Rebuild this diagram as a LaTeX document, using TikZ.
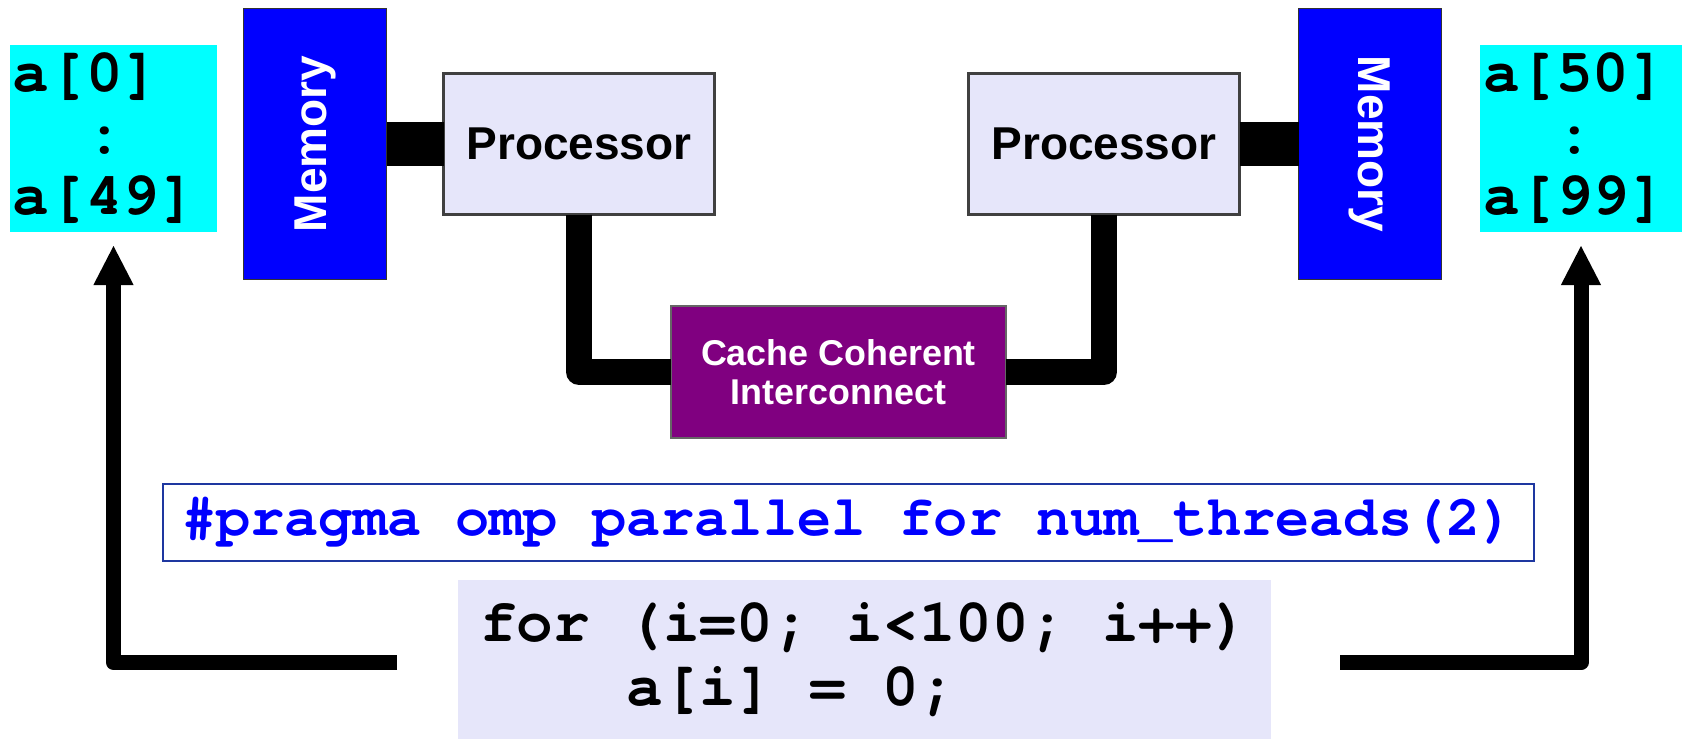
\documentclass[tikz,border=0pt]{standalone}
\usepackage{fontspec}
\setmainfont{Liberation Sans}
\setmonofont{texgyrecursor-regular.otf}[BoldFont=texgyrecursor-bold.otf]
\usetikzlibrary{arrows.meta,positioning}
\definecolor{memblue}{RGB}{0,0,255}
\definecolor{cpufill}{RGB}{230,230,250}
\definecolor{iccpurple}{RGB}{128,0,128}
\definecolor{slicecyan}{RGB}{0,255,255}
\definecolor{pragmaedge}{RGB}{30,55,160}
\definecolor{pragmablue}{RGB}{0,0,255}
\frenchspacing

\begin{document}
\begin{tikzpicture}[
			mem/.style={draw=black!80, line width=0.5pt, fill=memblue, text=white, minimum width=1.43cm, minimum height=2.71cm, inner sep=0pt, outer sep=0pt, font=\fontsize{13.1pt}{15pt}\selectfont\bfseries},
			cpu/.style={draw=black!75, line width=0.6pt, fill=cpufill, minimum width=2.71cm, minimum height=1.41cm, inner sep=0pt, outer sep=0pt, font=\fontsize{13.1pt}{15pt}\selectfont\bfseries},
			icc/.style={draw=black!60, line width=0.5pt, fill=iccpurple, text=white, minimum width=3.35cm, minimum height=1.32cm, align=center, inner sep=0pt, outer sep=0pt, font=\fontsize{10.2pt}{11.1pt}\selectfont\bfseries},
			slice/.style={fill=slicecyan, anchor=north west, minimum height=1.87cm, inner xsep=0.03cm, inner ysep=0pt, outer sep=0pt, align=left, font=\fontsize{17.35pt}{17.5pt}\selectfont\ttfamily\bfseries},
			pragmabox/.style={draw=pragmaedge, line width=0.6pt, text=pragmablue, minimum width=13.71cm, minimum height=0.77cm, inner sep=0pt, font=\fontsize{16.2pt}{18pt}\selectfont\ttfamily\bfseries},
			loopbox/.style={fill=cpufill, minimum width=8.13cm, minimum height=1.59cm, inner sep=0pt, outer sep=0pt, align=left, font=\fontsize{17.35pt}{18.2pt}\selectfont\ttfamily\bfseries},
			bus/.style={line width=0.44cm},
			wire/.style={line width=0.26cm, line join=round},
			flow/.style={line width=0.15cm, line join=round, -{Triangle[length=0.40cm, width=0.37cm]}, shorten >=0.13cm}
			]
			\useasboundingbox (0,0) rectangle (16.82,-7.39);

			% two processors, each with its own memory
			\node[mem] (memL) at (3.15,-1.44) {\rotatebox{90}{Memory}};
			\node[cpu, right=0.57cm of memL] (cpuL) {Processor};
			\node[cpu, right=2.54cm of cpuL] (cpuR) {Processor};
			\node[mem, right=0.59cm of cpuR] (memR) {\rotatebox{-90}{Memory}};
			\node[icc] (icc) at (8.385,-3.72) {Cache Coherent\\Interconnect};

			% array halves
			\node[slice, text width=2.01cm] (sliceL) at (0.10,-0.45) {a[0]\\\hphantom{a[}:\\a[49]};
			\node[slice, text width=1.96cm] (sliceR) at (14.80,-0.45) {a[50]\\\hphantom{a[}:\\a[99]};

			% the loop
			\node[pragmabox] (pragma) at (8.485,-5.225) {\#pragma omp parallel for num\_threads(2)};
			\node[loopbox] (loop) at (8.645,-6.595) {for (i=0; i<100; i++)\\\hphantom{for }a[i] = 0;};

			\draw[bus] (memL) -- (cpuL);
			\draw[bus] (cpuR) -- (memR);
			\draw[wire] (cpuL.south) |- (icc.west);
			\draw[wire] (cpuR.south) |- (icc.east);

			\draw[flow] ([xshift=-0.61cm,yshift=-0.03cm]loop.west) -| (sliceL);
			\draw[flow] ([xshift=0.69cm,yshift=-0.03cm]loop.east) -| (sliceR);
		\end{tikzpicture}
\end{document}
